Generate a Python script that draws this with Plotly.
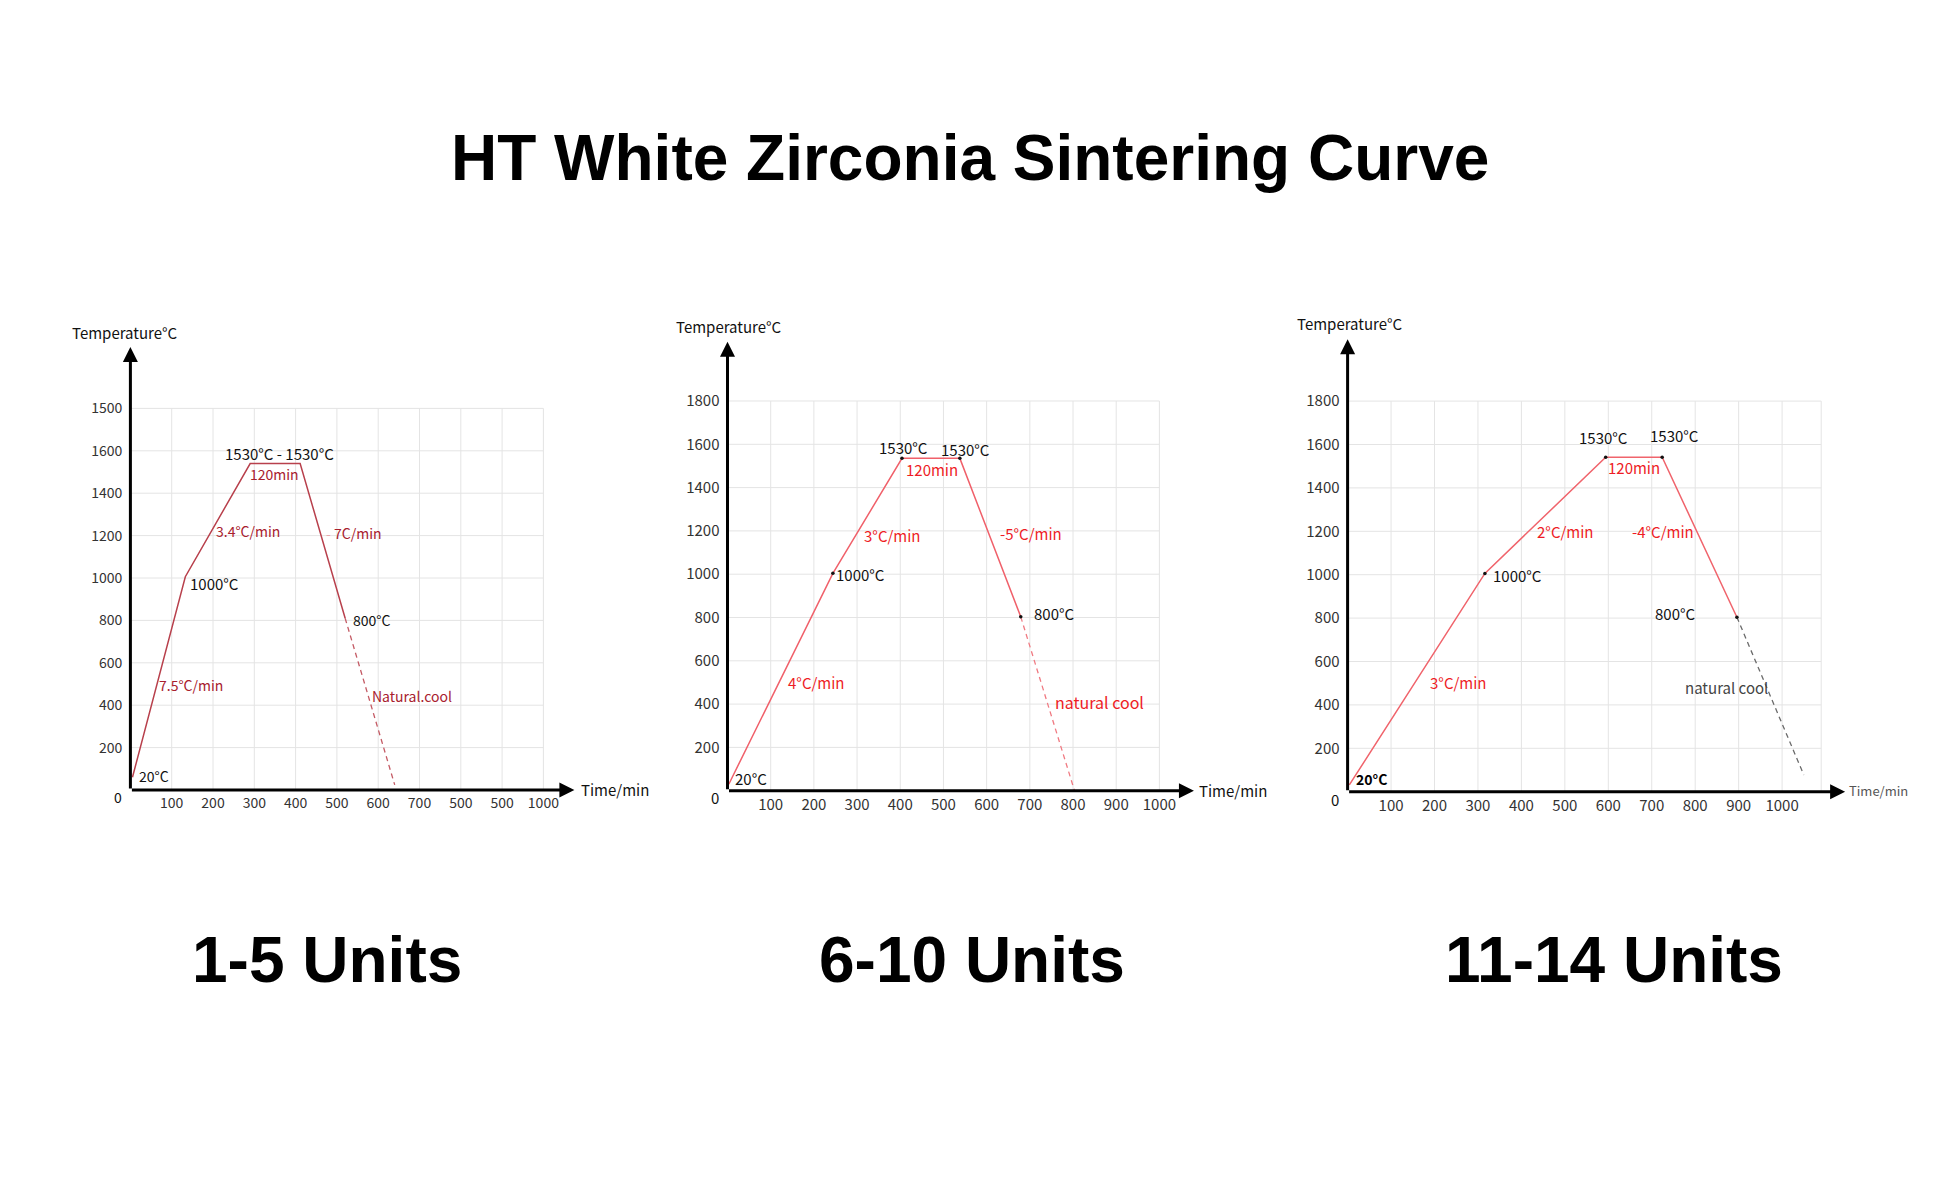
import plotly.graph_objects as go

W, H = 1940, 1200

# ---------------- data ----------------
# Panel 1: 1-5 Units
p1_time = [5, 133, 290, 411, 520]
p1_temp = [60, 1006, 1540, 1540, 810]
p1_cool_time = [520, 640]
p1_cool_temp = [810, 24]

# Panel 2: 6-10 Units
p2_time = [3, 244, 404, 538, 679]
p2_temp = [30, 1004, 1535, 1535, 803]
p2_cool_time = [679, 803]
p2_cool_temp = [803, 3]

# Panel 3: 11-14 Units
p3_time = [4, 316, 594, 724, 896]
p3_temp = [31, 1006, 1541, 1541, 804]
p3_cool_time = [896, 1050]
p3_cool_temp = [804, 77]

# grid / tick values and labels
y_grid_vals = [200, 400, 600, 800, 1000, 1200, 1400, 1600, 1800]
x_grid_vals = [100, 200, 300, 400, 500, 600, 700, 800, 900, 1000]
p3_x_grid_vals = [100, 200, 300, 400, 500, 600, 700, 800, 900, 1000, 1090]

p1_ytick_text = ["200", "400", "600", "800", "1000", "1200", "1400", "1600", "1500"]
p1_xtick_text = ["100", "200", "300", "400", "500", "600", "700", "500", "500", "1000"]
std_ytick_text = ["200", "400", "600", "800", "1000", "1200", "1400", "1600", "1800"]
std_xtick_text = ["100", "200", "300", "400", "500", "600", "700", "800", "900", "1000"]

subtitles = ["1-5 Units", "6-10 Units", "11-14 Units"]
title_text = "HT White Zirconia Sintering Curve"

FONT = "Noto Sans CJK SC, Noto Sans, sans-serif"
BOLD_FONT = "Liberation Sans, Arial, sans-serif"
GRID = "#e4e4e4"

# panel geometry in pixels: origin x, px per minute, origin y, px per degree, x range, y range, arrow tips
panels = [
    dict(x0=130.4, ppx=0.413, y0=790.0, ppy=0.212, xr=1100, yr=2120, xtip=1075, ytip=2090,
         time=p1_time, temp=p1_temp, ct=p1_cool_time, cT=p1_cool_temp,
         line="#b8404c", cool="#c45a64", markers=False,
         xgrid=x_grid_vals, xgrid_max=1000, xtv=x_grid_vals, xtt=p1_xtick_text, ytt=p1_ytick_text, tsize=14),
    dict(x0=727.5, ppx=0.4319, y0=790.7, ppy=0.2165, xr=1100, yr=2100, xtip=1080, ytip=2074,
         time=p2_time, temp=p2_temp, ct=p2_cool_time, cT=p2_cool_temp,
         line="#f0606a", cool="#f07a82", markers=True,
         xgrid=x_grid_vals, xgrid_max=1000, xtv=x_grid_vals, xtt=std_xtick_text, ytt=std_ytick_text, tsize=15),
    dict(x0=1347.6, ppx=0.4345, y0=791.7, ppy=0.217, xr=1160, yr=2100, xtip=1145, ytip=2085,
         time=p3_time, temp=p3_temp, ct=p3_cool_time, cT=p3_cool_temp,
         line="#f0646c", cool="#6a6a6a", markers=True,
         xgrid=p3_x_grid_vals, xgrid_max=1090, xtv=x_grid_vals, xtt=std_xtick_text, ytt=std_ytick_text, tsize=15),
]

fig = go.Figure()
layout_axes = {}
annotations = []

for i, p in enumerate(panels):
    n = "" if i == 0 else str(i + 1)
    xa, ya = "x" + n, "y" + n
    # grid lines
    gx, gy = [], []
    for yv in y_grid_vals:
        gx += [0, p["xgrid_max"], None]
        gy += [yv, yv, None]
    for xv in p["xgrid"]:
        gx += [xv, xv, None]
        gy += [0, y_grid_vals[-1], None]
    fig.add_trace(go.Scatter(x=gx, y=gy, mode="lines", line=dict(color=GRID, width=1),
                             hoverinfo="skip", showlegend=False, xaxis=xa, yaxis=ya))
    # heating / holding / cooling curve
    fig.add_trace(go.Scatter(x=p["time"], y=p["temp"], mode="lines",
                             line=dict(color=p["line"], width=1.5),
                             hoverinfo="skip", showlegend=False, xaxis=xa, yaxis=ya))
    fig.add_trace(go.Scatter(x=p["ct"], y=p["cT"], mode="lines",
                             line=dict(color=p["cool"], width=1.3, dash="5px,4px"),
                             hoverinfo="skip", showlegend=False, xaxis=xa, yaxis=ya))
    if p["markers"]:
        fig.add_trace(go.Scatter(x=p["time"][1:], y=p["temp"][1:], mode="markers",
                                 marker=dict(color="#111", size=3.5),
                                 hoverinfo="skip", showlegend=False, xaxis=xa, yaxis=ya))

    xd0 = p["x0"] / W
    xd1 = (p["x0"] + p["xr"] * p["ppx"]) / W
    yd0 = 1 - p["y0"] / H
    yd1 = 1 - (p["y0"] - p["yr"] * p["ppy"]) / H
    layout_axes["xaxis" + n] = dict(
        domain=[xd0, xd1], range=[0, p["xr"]], anchor=ya,
        showgrid=False, zeroline=False, showline=False, ticks="",
        tickmode="array", tickvals=p["xtv"], ticktext=p["xtt"],
        tickfont=dict(family=FONT, size=p["tsize"], color="#333"),
        ticklabelstandoff=3, fixedrange=True)
    layout_axes["yaxis" + n] = dict(
        domain=[yd0, yd1], range=[0, p["yr"]], anchor=xa,
        showgrid=False, zeroline=False, showline=False, ticks="",
        tickmode="array", tickvals=y_grid_vals, ticktext=p["ytt"],
        tickfont=dict(family=FONT, size=p["tsize"], color="#333"),
        ticklabelstandoff=7, fixedrange=True)
    # axis arrows
    for (tx, ty) in [(p["xtip"], 0), (0, p["ytip"])]:
        annotations.append(dict(x=tx, y=ty, ax=0, ay=0, xref=xa, yref=ya, axref=xa, ayref=ya,
                                text="", showarrow=True, arrowhead=2, arrowsize=1.0,
                                arrowwidth=3, arrowcolor="#000"))

# text labels: (text, x px, y px, color, size, anchor)
DR = "#a8202e"   # dark red (panel 1)
RD = "#ee1c25"   # red (panels 2, 3)
BK = "#111"
labels = [
    # panel 1
    ("Temperature°C", 125.4, 332.7, BK, 15, "center"),
    ("Time/min", 579.3, 789, BK, 15, "left"),
    ("0", 118.2, 796.7, BK, 14, "center"),
    ("1530°C - 1530°C", 279.5, 453.3, BK, 15, "center"),
    ("120min", 274.4, 474.3, DR, 14, "center"),
    ("3.4°C/min", 248.3, 530.7, DR, 14, "center"),
    ("<span style='color:#e8a8ae'>- </span>7C/min", 354.0, 532.7, DR, 14, "center"),
    ("1000°C", 214.6, 583.3, BK, 15, "center"),
    ("800°C", 371.9, 620.0, BK, 14, "center"),
    ("7.5°C/min", 190.5, 685.0, DR, 14, "center"),
    ("Natural.cool", 411.7, 695.7, DR, 14, "center"),
    ("20°C", 153.7, 776.0, BK, 14, "center"),
    # panel 2
    ("Temperature°C", 728.6, 326.0, BK, 15, "center"),
    ("Time/min", 1197.0, 790, BK, 15, "left"),
    ("0", 715.4, 797.3, BK, 15, "center"),
    ("1530°C", 903.2, 447.7, BK, 15, "center"),
    ("1530°C", 965.3, 449.3, BK, 15, "center"),
    ("120min", 932.4, 469.3, RD, 15, "center"),
    ("3°C/min", 892.9, 535.0, RD, 15, "center"),
    ("-5°C/min", 1030.9, 533.3, RD, 15, "center"),
    ("1000°C", 860.7, 574.3, BK, 15, "center"),
    ("800°C", 1054.0, 613.3, BK, 15, "center"),
    ("4°C/min", 816.2, 682.7, RD, 15, "center"),
    ("natural cool", 1099.7, 701.7, RD, 16, "center"),
    ("20°C", 751.3, 778.3, BK, 15, "center"),
    # panel 3
    ("Temperature°C", 1349.8, 323.3, BK, 15, "center"),
    ("Time/min", 1847.3, 790, "#555", 13, "left"),
    ("0", 1335.1, 799.3, BK, 15, "center"),
    ("1530°C", 1603.9, 437.3, BK, 15, "center"),
    ("1530°C", 1674.5, 435.7, BK, 15, "center"),
    ("120min", 1633.7, 467.7, RD, 15, "center"),
    ("2°C/min", 1565.7, 531.7, RD, 15, "center"),
    ("-4°C/min", 1663.3, 531.0, RD, 15, "center"),
    ("1000°C", 1517.3, 575.0, BK, 15, "center"),
    ("800°C", 1675.9, 613.3, BK, 15, "center"),
    ("3°C/min", 1458.2, 682.7, RD, 15, "center"),
    ("natural cool", 1726.5, 687.7, "#444", 15, "center"),
    ("<b>20°C</b>", 1371.8, 779.0, "#000", 14, "center"),
]
for (t, px, py, c, s, anc) in labels:
    annotations.append(dict(text=t, x=px / W, y=1 - py / H, xref="paper", yref="paper",
                            xanchor=anc, yanchor="middle", showarrow=False,
                            font=dict(family=FONT, size=s, color=c)))

# main title and panel subtitles
annotations.append(dict(text=title_text, x=969.5 / W, y=1 - 158 / H, xref="paper", yref="paper",
                        xanchor="center", yanchor="middle", showarrow=False,
                        font=dict(family=BOLD_FONT, size=64, color="#000", weight=700)))
for st, cx in zip(subtitles, [327, 972, 1614]):
    annotations.append(dict(text=st, x=cx / W, y=1 - 960 / H, xref="paper", yref="paper",
                            xanchor="center", yanchor="middle", showarrow=False,
                            font=dict(family=BOLD_FONT, size=64, color="#000", weight=700)))

fig.update_layout(
    width=W, height=H,
    margin=dict(l=0, r=0, t=0, b=0),
    paper_bgcolor="white", plot_bgcolor="white",
    showlegend=False, hovermode=False,
    annotations=annotations,
    **layout_axes,
)

fig.write_html("out.html", config={"displayModeBar": False})
